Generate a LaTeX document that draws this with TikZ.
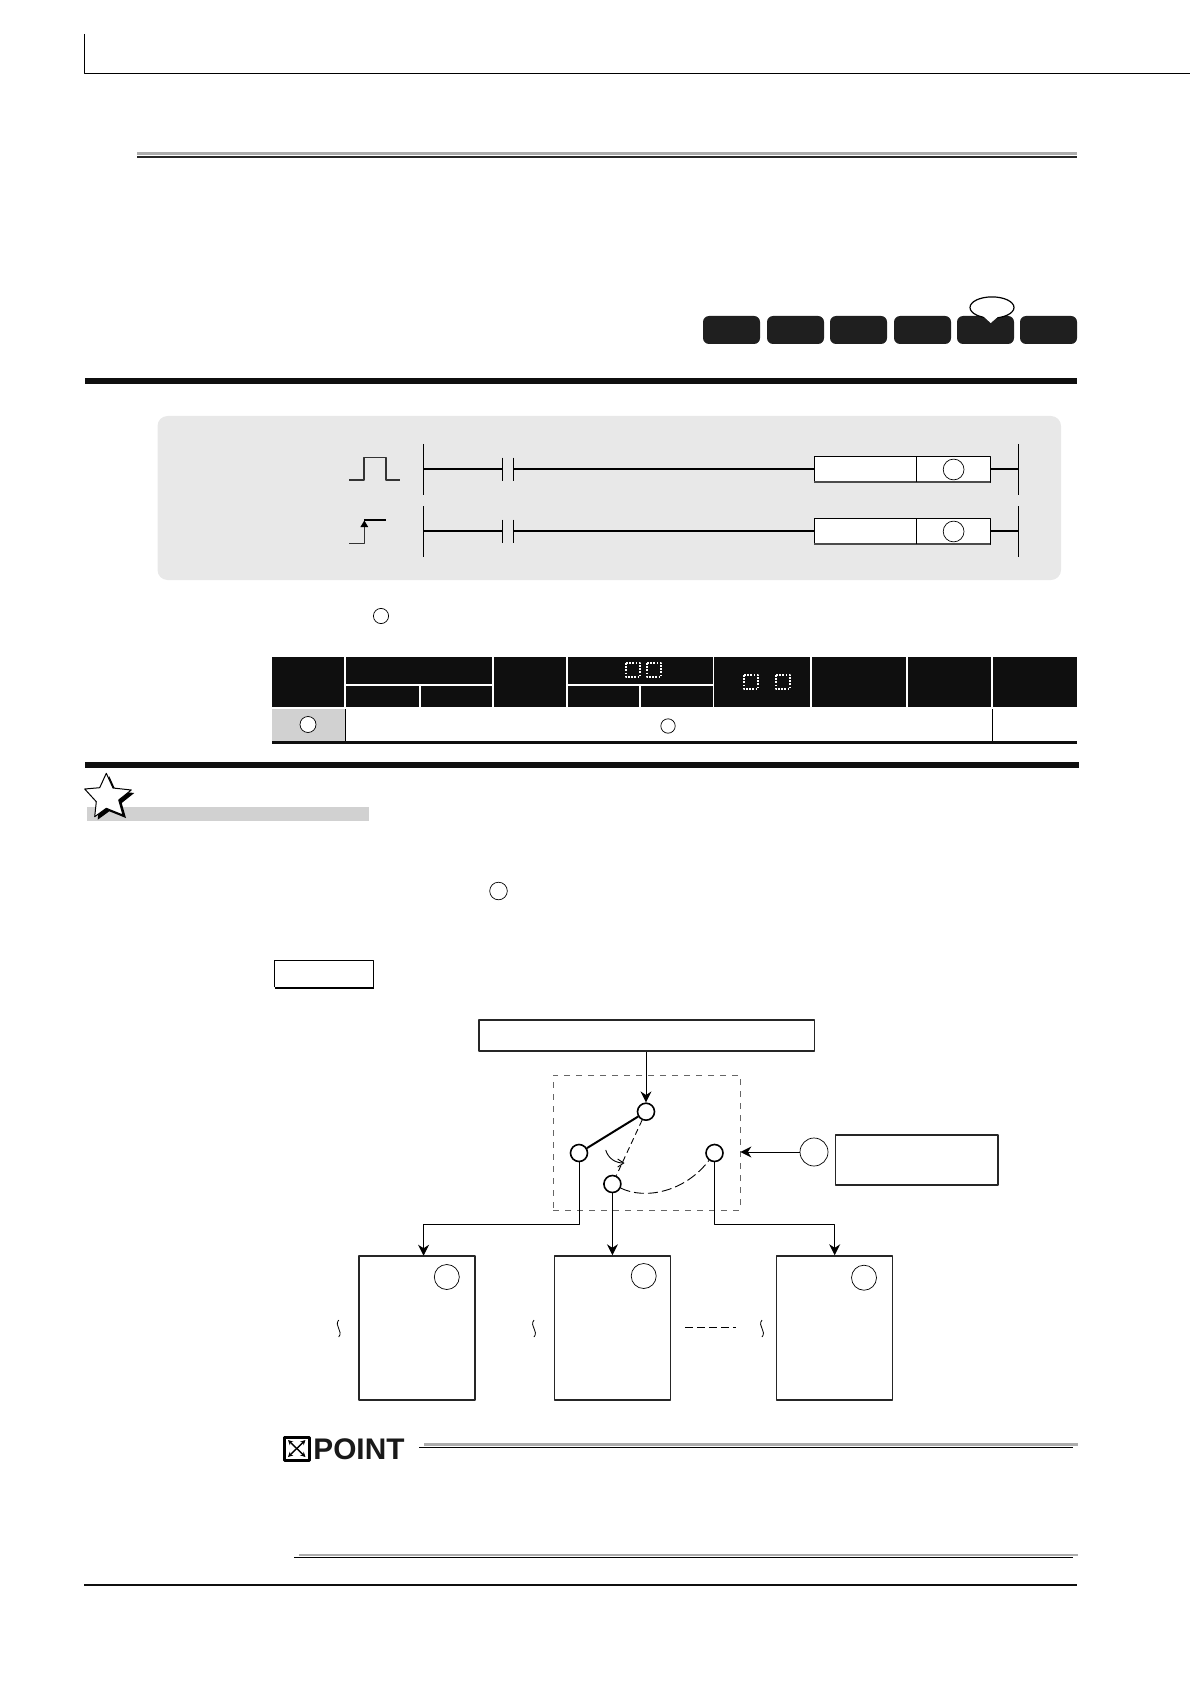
\documentclass[tikz,border=0pt]{standalone}
\usepackage{fontspec}
\newfontfamily\pointfont{Liberation Sans}
\usetikzlibrary{arrows.meta}
\definecolor{panelgray}{gray}{.91}
\definecolor{rulegray}{gray}{.68}
\definecolor{bandgray}{gray}{.82}
\definecolor{inkblack}{gray}{.06}
\begin{document}
\begin{tikzpicture}[x=.5pt,y=-.5pt,line join=round,>={Stealth[length=5.5pt,width=5.5pt]}]
	\tikzset{pin/.style={draw,circle,fill=white,line width=.8pt,inner sep=0pt,minimum size=8.5pt}}
	\tikzset{mark/.style={draw,circle,fill=white,line width=.35pt,inner sep=0pt,minimum size=#1}}
	\tikzset{memblock/.style={draw,black!85,line width=.75pt,inner sep=0pt,minimum width=58pt,minimum height=72pt}}
	\tikzset{plainbox/.style={draw,black!85,line width=.75pt,inner sep=0pt}}
	\useasboundingbox (0,0) rectangle (1190,1684);
	% page frame and rules
	\draw[line width=.7pt] (84.7,34)--(84.7,73.5)--(1190,73.5);
	\fill[rulegray] (137,152) rectangle (1077,155);
	\fill[black!85] (137,155.7) rectangle (1077,158);
	\fill[inkblack] (85,378) rectangle (1077,384);
	\fill[inkblack] (85,762) rectangle (1079,768);
	\fill[inkblack] (84,1584) rectangle (1077,1586);
	% badges
	\foreach \x in {703,767,830,894,957,1020}
	\fill[black!88,rounded corners=3pt] (\x,316) rectangle ++(57,28);
	\draw[fill=white,line width=.6pt] (992,307.5) ellipse (11pt and 5.3pt);
	\fill[white] (983,316)--(990.7,323)--(1000,315)--cycle;
	% ladder panel
	\fill[panelgray,rounded corners=5pt] (157.5,416) rectangle (1061,580);
	\foreach \ya/\yb/\w in {469/444/1pt,531/506/.7pt}
	{
		\draw[line width=.4pt] (423.5,\yb)--(423.5,\yb+51);
		\draw[line width=.4pt] (1018.6,\yb)--(1018.6,\yb+51);
		\draw[line width=\w] (423.5,\ya)--(502.3,\ya);
		\draw[line width=\w] (513.3,\ya)--(814,\ya);
		\draw[line width=\w] (990,\ya)--(1018.6,\ya);
		\draw[line width=.4pt] (502.3,\ya-11.5)--(502.3,\ya+11.5);
		\draw[line width=.4pt] (513.3,\ya-11.5)--(513.3,\ya+11.5);
		\draw[fill=white,line width=.4pt] (814,\ya-13)--(990,\ya-13)--(990,\ya+13)--(814,\ya+13)--cycle;
		\draw[black!70,line width=.9pt] (814,\ya+13)--(990,\ya+13);
		\draw[line width=.4pt] (916.5,\ya-13)--(916.5,\ya+13);
		\draw[line width=.35pt,fill=white] (953.6,\ya+.5) circle (5.2pt);
	}
	\draw[line width=.7pt,draw=black!80] (349.3,480)--(364,480)--(364,457.3)--(386,457.3)--(386,480)--(400,480);
	\draw[line width=.7pt,draw=black!80] (349.3,543.3)--(364.3,543.3)--(364.3,527);
	\draw[line width=1pt] (364.3,520)--(385.7,520);
	\fill[black] (364.3,520.5)--(368.2,527)--(360.4,527)--cycle;
	\draw[line width=.35pt,fill=white] (381,616) circle (3.8pt);
	% table
	\fill[inkblack] (272,657) rectangle (1077,707);
	\foreach \x in {345,493,567,713.4,811,907,992}
	\draw[white,line width=.6pt] (\x,657)--(\x,707);
	\draw[white,line width=.9pt] (346,685)--(493,685);
	\draw[white,line width=.9pt] (567,685)--(713.4,685);
	\draw[white,line width=.6pt] (420,685)--(420,707);
	\draw[white,line width=.6pt] (640,685)--(640,707);
	\foreach \x/\y in {626/663,647/663,744/675,776/675}
	\draw[white,line width=.8pt,dash pattern=on .8pt off .8pt] (\x,\y) rectangle ++(14,14);
	\fill[bandgray] (272,709) rectangle (345,741);
	\draw[line width=.4pt] (345,709)--(345,741);
	\draw[line width=.4pt] (992,709)--(992,741);
	\fill[inkblack] (272,741) rectangle (1077,744);
	\draw[line width=.35pt,fill=white] (308,724.5) circle (4pt);
	\draw[line width=.35pt,fill=white] (668,726) circle (3.6pt);
	% star heading
	\fill[bandgray] (86.5,807) rectangle (369,821);
	\fill[black] (109.3,776.3)--(116,791)--(134.3,793)--(121.7,803)--(126,818)--(109.3,811.3)--(97.7,819.7)--(99.3,804.7)--(87.7,792)--(102.7,790.7)--cycle;
	\draw[fill=white,line width=.5pt] (106.3,773.3)--(113,788)--(131.3,790)--(118.7,800)--(123,815)--(106.3,808.3)--(94.7,816.7)--(96.3,801.7)--(84.7,789)--(99.7,787.7)--cycle;
	\draw[line width=.35pt,fill=white] (498.5,891) circle (4.4pt);
	\draw[line width=.5pt] (274.5,960)--(373.5,960)--(373.5,987);
	\draw[line width=.5pt] (274.5,987)--(274.5,960);
	\draw[line width=1pt] (274.5,987.5)--(373.5,987.5);
	% switch diagram
	\node[plainbox,minimum width=167.8pt,minimum height=15.5pt] (topbox) at (646.8,1035.5) {};
	\node[draw=black!60,dashed,line width=.4pt,inner sep=0pt,minimum width=93.5pt,minimum height=67.5pt] (switchbox) at (646.5,1142.5) {};
	\node[pin] (pint) at (646,1111.7) {};
	\node[pin] (pinl) at (579,1153) {};
	\node[pin] (pinm) at (612.4,1184) {};
	\node[pin] (pinr) at (714.5,1153) {};
	\node[mark=14pt] (markr) at (814,1152) {};
	\node[plainbox,minimum width=81.2pt,minimum height=24.8pt] (pointerbox) at (916.8,1160) {};
	\node[memblock] (mema) at (417,1328) {};
	\node[memblock] (memb) at (612.4,1328) {};
	\node[memblock] (memc) at (834.7,1328) {};
	\node[mark=12.5pt] (marka) at (446.8,1277) {};
	\node[mark=12.5pt] (markb) at (643.7,1276) {};
	\node[mark=12.5pt] (markc) at (864,1277.7) {};
	\coordinate (busy) at (0,1224);
	\coordinate (mema in) at (423.6,1255.7);
	\draw[->,line width=.5pt] (pint |- topbox.south)--(pint);
	\draw[line width=1pt] (pinl)--(pint);
	\draw[dashed,line width=.45pt,dash pattern=on 3pt off 2pt] (pint)--(pinm);
	\draw[dashed,line width=.45pt,dash pattern=on 5pt off 2pt] (pinm) .. controls (645,1200) and (685,1192) .. (pinr);
	\draw[line width=.45pt,-{Straight Barb[length=3pt,width=4pt]}] (605.7,1150) .. controls (608,1158) and (615,1163) .. (624.5,1163);
	\draw[->,line width=.5pt] (markr)--(switchbox.east |- markr);
	\draw[->,line width=.5pt] (pinl)--(pinl |- busy)-|(mema in);
	\draw[->,line width=.5pt] (pinm)--(memb);
	\draw[->,line width=.5pt] (pinr)--(pinr |- busy)-|(memc);
	\foreach \x in {338.7,534,762}
	\draw[line width=.4pt] (\x,1320) .. controls (\x-5,1326) and (\x+5,1331) .. (\x,1337);
	\draw[line width=.5pt,dash pattern=on 4pt off 2pt] (685,1327)--(736,1327);
	% point box
	\draw[line width=1.5pt,fill=white] (284.5,1437) rectangle (309,1460);
	\draw[{Stealth[length=2.5pt,width=2.5pt]}-{Stealth[length=2.5pt,width=2.5pt]},line width=.7pt] (288,1440)--(305.5,1457);
	\draw[{Stealth[length=2.5pt,width=2.5pt]}-{Stealth[length=2.5pt,width=2.5pt]},line width=.7pt] (305.5,1440)--(288,1457);
	\node[anchor=base west,inner sep=0pt,text=black!90] (pointlabel) at (313,1459) {\fontsize{14.9pt}{14.9pt}\pointfont\bfseries POINT};
	\fill[rulegray] (423.5,1442.7) rectangle (1077.7,1446);
	\draw[line width=.5pt] (419,1447.5)--(1073,1447.5);
	\fill[rulegray] (299,1554) rectangle (1077.7,1556);
	\draw[line width=.5pt] (294,1557.5)--(1073,1557.5);
\end{tikzpicture}
\end{document}
